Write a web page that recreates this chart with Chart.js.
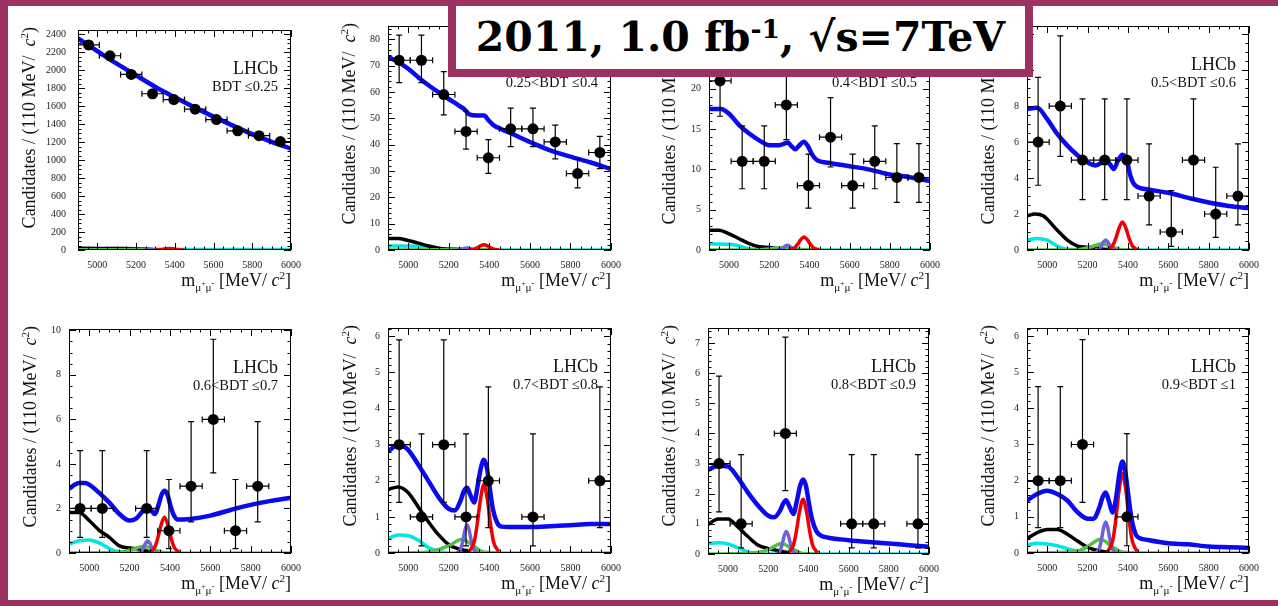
<!DOCTYPE html>
<html>
<head>
<meta charset="utf-8">
<script src="https://cdn.jsdelivr.net/npm/chart.js@4.4.1/dist/chart.umd.min.js"></script>
<style>
  body { margin: 0; width: 1278px; height: 606px; position: relative; overflow: hidden; background: #fff; }
  #frame { position: absolute; left: 0; top: 0; width: 1278px; height: 606px; box-sizing: border-box;
           border-left: 8px solid #9b3261; border-top: 6px solid #9b3261; border-bottom: 6px solid #9b3261; }
  canvas.pad { position: absolute; }
  #title { position: absolute; left: 448px; top: 0; width: 585px; height: 77px; box-sizing: border-box;
           border: 8px solid #9b3261; border-top-width: 6px; background: #fff; z-index: 10;
           font: bold 41px "DejaVu Serif", serif; color: #000; text-align: center; line-height: 63px; white-space: nowrap; }
  #title sup { font-size: 0.65em; vertical-align: 0.5em; line-height: 0; }
</style>
</head>
<body>
<div id="frame"></div>
<div id="title">2011, 1.0 fb<sup>-1</sup>, √s=7TeV</div>
<script>
// mass bins (110 MeV wide) shared by all BDT bins
const binCentres = [4955, 5065, 5175, 5285, 5395, 5505, 5615, 5725, 5835, 5945];
const binHalfWidth = 55;

const bdtLabels = ['BDT \u22640.25', '0.25<BDT \u22640.4', '0.4<BDT \u22640.5', '0.5<BDT \u22640.6',
                   '0.6<BDT \u22640.7', '0.7<BDT \u22640.8', '0.8<BDT \u22640.9', '0.9<BDT \u22641'];

// candidates per bin (null = empty bin, not drawn)
const counts = [
  [2284, 2163, 1955, 1740, 1675, 1568, 1453, 1327, 1273, 1208],
  [72, 72, 59, 45, 35, 46, 46, 41, 29, 37],
  [21, 11, 11, 18, 8, 14, 8, 11, 9, 9],
  [6, 8, 5, 5, 5, 3, 1, 5, 2, 3],
  [2, 2, null, 2, 1, 3, 6, 1, 3, null],
  [3, 1, 3, 1, 2, null, 1, null, null, 2],
  [3, 1, null, 4, null, null, 1, 1, null, 1],
  [2, 2, 3, null, 1, null, null, null, null, null]
];
const errLow = [
  [2236, 2116, 1911, 1698, 1634, 1528, 1415, 1291, 1237, 1173],
  [63.5, 63.5, 51.3, 38.3, 29.1, 39.2, 39.2, 34.6, 23.6, 30.9],
  [16.6, 7.6, 7.6, 13.7, 5.2, 10.3, 5.2, 7.6, 5.9, 5.9],
  [3.6, 5.2, 2.8, 2.8, 2.8, 1.4, 0.2, 2.8, 0.7, 1.4],
  [0.7, 0.7, null, 0.7, 0.2, 1.4, 3.6, 0.2, 1.4, null],
  [1.4, 0.2, 1.4, 0.2, 0.7, null, 0.2, null, null, 0.7],
  [1.4, 0.2, null, 2.1, null, null, 0.2, 0.2, null, 0.2],
  [0.7, 0.7, 1.4, null, 0.2, null, null, null, null, null]
];
const errHigh = [
  [2332, 2210, 1999, 1782, 1716, 1608, 1491, 1363, 1309, 1243],
  [81.5, 81.5, 67.7, 52.7, 41.9, 53.8, 53.8, 47.4, 34.4, 43.1],
  [26.1, 15.4, 15.4, 22.4, 11.9, 18.9, 11.9, 15.4, 13.2, 13.2],
  [9.6, 11.9, 8.4, 8.4, 8.4, 5.9, 3.3, 8.4, 4.6, 5.9],
  [4.6, 4.6, null, 4.6, 3.3, 5.9, 9.6, 3.3, 5.9, null],
  [5.9, 3.3, 5.9, 3.3, 4.6, null, 3.3, null, null, 4.6],
  [5.9, 3.3, null, 7.2, null, null, 3.3, 3.3, null, 3.3],
  [4.6, 4.6, 5.9, null, 3.3, null, null, null, null, null]
];

// total fit, [mass, candidates]
const fitTotal = [
  [[4900,2357],[5000,2215],[5100,2075],[5200,1945],[5300,1815],[5400,1700],[5500,1590],[5600,1485],[5700,1385],[5800,1290],[5900,1205],[6000,1128]],
  [[4900,73.3],[4950,71.3],[5000,68.8],[5050,65.5],[5100,62.5],[5150,59.8],[5200,57.3],[5250,54.8],[5280,53.2],[5300,51.5],[5340,51],[5375,51],[5395,49.3],[5420,47.4],[5460,45.8],[5500,44.5],[5600,41],[5700,37.8],[5800,35.4],[5900,33.2],[6000,30.7]],
  [[4900,17.5],[4960,17.5],[5000,16.9],[5050,15.5],[5100,14.45],[5150,13.6],[5200,13.0],[5250,13.0],[5275,13.2],[5292,13.35],[5310,12.9],[5330,12.5],[5350,13.0],[5372,13.45],[5392,12.9],[5412,11.9],[5435,11.2],[5500,10.8],[5600,10.4],[5700,9.98],[5800,9.36],[5900,9.04],[6000,8.55]],
  [[4900,7.85],[4950,7.9],[5000,7.27],[5050,6.45],[5100,5.8],[5150,5.27],[5200,4.87],[5240,4.7],[5265,4.82],[5290,5.05],[5312,4.75],[5330,4.5],[5352,5.0],[5373,5.3],[5394,5.0],[5413,4.1],[5435,3.6],[5500,3.36],[5600,3.18],[5700,2.9],[5800,2.64],[5900,2.45],[6000,2.33]],
  [[4900,2.89],[4950,3.14],[4980,3.14],[5000,3.07],[5050,2.7],[5100,2.26],[5150,1.75],[5200,1.46],[5230,1.53],[5260,1.82],[5275,2.02],[5290,2.09],[5305,1.95],[5325,1.75],[5345,2.2],[5358,2.6],[5373,2.8],[5388,2.62],[5402,2.15],[5418,1.72],[5440,1.5],[5500,1.53],[5600,1.68],[5700,1.93],[5800,2.16],[5900,2.34],[6000,2.48]],
  [[4900,2.82],[4950,2.99],[4980,2.94],[5000,2.85],[5050,2.44],[5100,1.99],[5150,1.54],[5200,1.22],[5230,1.18],[5258,1.45],[5275,1.72],[5290,1.81],[5305,1.62],[5325,1.4],[5342,1.85],[5358,2.35],[5373,2.58],[5388,2.35],[5402,1.8],[5418,1.2],[5440,0.82],[5460,0.73],[5500,0.72],[5600,0.72],[5700,0.74],[5800,0.77],[5900,0.8],[6000,0.8]],
  [[4900,2.79],[4950,2.93],[5000,2.9],[5050,2.52],[5100,2.03],[5150,1.6],[5200,1.27],[5230,1.22],[5258,1.43],[5275,1.68],[5288,1.78],[5305,1.58],[5325,1.33],[5342,1.75],[5358,2.25],[5373,2.47],[5388,2.25],[5402,1.7],[5418,1.15],[5440,0.75],[5460,0.62],[5500,0.54],[5600,0.46],[5700,0.4],[5800,0.35],[5900,0.29],[6000,0.24]],
  [[4900,1.45],[4950,1.63],[5000,1.72],[5050,1.63],[5100,1.45],[5150,1.13],[5200,0.95],[5230,0.95],[5258,1.25],[5275,1.55],[5290,1.67],[5305,1.45],[5325,1.12],[5342,1.55],[5358,2.2],[5373,2.53],[5388,2.2],[5402,1.6],[5418,0.95],[5440,0.5],[5460,0.41],[5500,0.36],[5600,0.27],[5700,0.24],[5800,0.18],[5900,0.16],[6000,0.14]]
];

// Bs -> mumu (red) and B0 -> mumu (violet) peaks
const bsMass = [5300, 5325, 5340, 5356, 5373, 5390, 5406, 5421, 5446];
const bsCurve = [
  [0.4, 2.9, 7.6, 14, 18, 14, 7.6, 2.9, 0.4],
  [0.04, 0.32, 0.84, 1.56, 2.0, 1.56, 0.84, 0.32, 0.04],
  [0.03, 0.26, 0.67, 1.25, 1.6, 1.25, 0.67, 0.26, 0.03],
  [0.03, 0.25, 0.65, 1.21, 1.55, 1.21, 0.65, 0.25, 0.03],
  [0.03, 0.26, 0.67, 1.25, 1.6, 1.25, 0.67, 0.26, 0.03],
  [0.04, 0.3, 0.8, 1.48, 1.9, 1.48, 0.8, 0.3, 0.04],
  [0.04, 0.29, 0.76, 1.42, 1.82, 1.42, 0.76, 0.29, 0.04],
  [0.04, 0.35, 0.92, 1.72, 2.2, 1.72, 0.92, 0.35, 0.04]
];
const bdMass = [5240, 5258, 5270, 5280, 5290, 5300, 5310, 5322, 5340];
const bdCurve = [
  [0.03, 0.42, 1.38, 2.46, 3, 2.46, 1.38, 0.42, 0.03],
  [0.01, 0.11, 0.37, 0.66, 0.8, 0.66, 0.37, 0.11, 0.01],
  [0.01, 0.08, 0.28, 0.49, 0.6, 0.49, 0.28, 0.08, 0.01],
  [0.01, 0.08, 0.25, 0.45, 0.55, 0.45, 0.25, 0.08, 0.01],
  [0.01, 0.08, 0.25, 0.45, 0.55, 0.45, 0.25, 0.08, 0.01],
  [0.01, 0.11, 0.36, 0.64, 0.78, 0.64, 0.36, 0.11, 0.01],
  [0.01, 0.1, 0.35, 0.62, 0.75, 0.62, 0.35, 0.1, 0.01],
  [0.01, 0.12, 0.4, 0.71, 0.86, 0.71, 0.4, 0.12, 0.01]
];

// misidentified B -> hh' (green)
const hhCurve = [
  [[4900,3],[5100,3],[5270,6],[5450,2]],
  [[4900,0],[5150,0.05],[5220,0.3],[5270,0.5],[5320,0.3],[5380,0.05],[5450,0]],
  [[4900,0],[5150,0.03],[5220,0.2],[5270,0.32],[5320,0.2],[5380,0.03],[5450,0]],
  [[4900,0],[5150,0.02],[5220,0.18],[5270,0.35],[5320,0.18],[5370,0.02],[5450,0]],
  [[4900,0],[5150,0.03],[5220,0.18],[5270,0.3],[5320,0.16],[5370,0.02],[5450,0]],
  [[4900,0],[5100,0.03],[5200,0.2],[5265,0.38],[5320,0.2],[5370,0.03],[5450,0]],
  [[4900,0],[5150,0.05],[5210,0.18],[5265,0.35],[5320,0.17],[5370,0.02],[5450,0]],
  [[4900,0],[5150,0.05],[5200,0.18],[5265,0.38],[5320,0.18],[5370,0.03],[5450,0]]
];
// B -> pi mu nu (black)
const pimunuCurve = [
  [[4900,20],[5000,18],[5100,16],[5200,14],[5250,10],[5300,4]],
  [[4900,4.4],[4950,4.4],[5000,3.6],[5050,2.6],[5100,1.5],[5150,0.7],[5200,0.4],[5250,0.3],[5300,0.15]],
  [[4900,2.44],[4950,2.44],[5000,2.0],[5050,1.4],[5100,0.8],[5150,0.4],[5200,0.3],[5250,0.15],[5300,0.05]],
  [[4900,1.9],[4940,2.0],[4980,1.9],[5050,1.1],[5100,0.55],[5150,0.22],[5200,0.15],[5250,0.08],[5300,0.03]],
  [[4900,1.82],[4950,1.82],[5000,1.46],[5050,1.02],[5100,0.7],[5150,0.32],[5200,0.22],[5250,0.17],[5300,0.05]],
  [[4900,1.76],[4950,1.83],[5000,1.67],[5050,1.27],[5100,0.86],[5150,0.5],[5200,0.23],[5250,0.11],[5300,0.05]],
  [[4900,0.98],[4950,1.16],[5000,1.16],[5050,0.89],[5100,0.57],[5150,0.29],[5200,0.18],[5250,0.11],[5300,0.04]],
  [[4900,0.4],[4950,0.56],[5000,0.65],[5050,0.65],[5100,0.52],[5150,0.33],[5200,0.16],[5250,0.07],[5300,0.02]]
];
// B0(+) -> pi0(+) mu mu (cyan)
const pimumuCurve = [
  [[4900,8],[5200,6],[5600,5],[6000,5]],
  [[4900,1.5],[5000,1.5],[5100,1.4],[5150,0.4],[5200,0.1],[5300,0],[6000,0]],
  [[4900,0.75],[5000,0.7],[5050,0.5],[5100,0.15],[5150,0.03],[5200,0],[6000,0]],
  [[4900,0.55],[4950,0.64],[5000,0.55],[5050,0.22],[5100,0.04],[5200,0],[6000,0]],
  [[4900,0.4],[4950,0.55],[5000,0.58],[5050,0.45],[5100,0.2],[5150,0.05],[5200,0],[6000,0]],
  [[4900,0.4],[4950,0.5],[5000,0.48],[5050,0.35],[5100,0.15],[5150,0.05],[5200,0],[6000,0]],
  [[4900,0.35],[4950,0.37],[5000,0.33],[5050,0.2],[5100,0.07],[5150,0],[6000,0]],
  [[4900,0.22],[4950,0.27],[5000,0.25],[5050,0.2],[5100,0.12],[5150,0.05],[5200,0.01],[6000,0]]
];

// axis ranges and tick steps
const massMin = 4900, massMax = 6000;
const yMax = [2450, 85, 27.8, 12.45, 10.06, 6.23, 7.5, 6.22];
const yMajor = [200, 10, 5, 2, 2, 1, 1, 1];
const yMinor = [50, 2, 1, 0.5, 0.5, 0.2, 0.2, 0.2];

// ---- layout ----
const plotRects = [
  [78, 22, 296, 250], [388, 22, 616, 250], [709, 22, 935, 250], [1027, 22, 1254, 250],
  [69, 325, 296, 553], [388, 324, 616, 553], [708, 324, 934, 554], [1027, 324, 1254, 553]
];
const yTitleOffset = [43, 33, 34, 33, 33, 32, 33, 33];
const yLabelPad = [12, 8, 8, 8, 8, 8, 8, 8];
const AXIS_W = 70, AXIS_H = 50, PAD_T = 10, PAD_R = 14;
const SERIF = '"Liberation Serif", "Times New Roman", serif';

function pieceFont(p, size) {
  return (p.italic ? 'italic ' : '') + (size * (p.s || 1)).toFixed(1) + 'px ' + SERIF;
}

// draws a run of text pieces, right-aligned at xRight
function drawPieces(ctx, pieces, xRight, y, size) {
  const widths = pieces.map(p => { ctx.font = pieceFont(p, size); return ctx.measureText(p.t).width; });
  let cx = xRight - widths.reduce((a, b) => a + b, 0);
  pieces.forEach((p, i) => {
    ctx.font = pieceFont(p, size);
    ctx.fillText(p.t, cx, y + (p.dy || 0));
    cx += widths[i];
  });
}

const xTitle = [
  {t: 'm'}, {t: '\u03bc', s: 0.62, dy: 5}, {t: '+', s: 0.42, dy: 0}, {t: '\u03bc', s: 0.62, dy: 5}, {t: '-', s: 0.5, dy: 0},
  {t: ' [MeV/ '}, {t: 'c', italic: true}, {t: '2', s: 0.62, dy: -7}, {t: ']'}
];
const yTitle = [
  {t: 'Candidates / (110 MeV/  '}, {t: 'c', italic: true}, {t: '2', s: 0.62, dy: -7}, {t: ')'}
];

// ROOT-like pad: frame with inward ticks, error bars and labels
const rootPad = {
  id: 'rootPad',
  afterDatasetsDraw(chart, args, o) {
    const {ctx, chartArea: a} = chart;
    const xs = chart.scales.x, ys = chart.scales.y;
    const CAP = 3;

    ctx.save();
    ctx.beginPath();
    ctx.rect(a.left, a.top, a.right - a.left, a.bottom - a.top);
    ctx.clip();
    ctx.strokeStyle = '#000';
    ctx.lineWidth = 1.2;
    o.counts.forEach((n, i) => {
      if (n === null) return;
      const m = binCentres[i];
      const px = xs.getPixelForValue(m), py = ys.getPixelForValue(n);
      const x0 = xs.getPixelForValue(m - binHalfWidth), x1 = xs.getPixelForValue(m + binHalfWidth);
      const y0 = ys.getPixelForValue(o.lo[i]), y1 = ys.getPixelForValue(o.hi[i]);
      ctx.beginPath();
      ctx.moveTo(x0, py); ctx.lineTo(x1, py);
      ctx.moveTo(x0, py - CAP); ctx.lineTo(x0, py + CAP);
      ctx.moveTo(x1, py - CAP); ctx.lineTo(x1, py + CAP);
      ctx.moveTo(px, y0); ctx.lineTo(px, y1);
      ctx.moveTo(px - CAP, y0); ctx.lineTo(px + CAP, y0);
      ctx.moveTo(px - CAP, y1); ctx.lineTo(px + CAP, y1);
      ctx.stroke();
    });
    ctx.restore();

    // frame and ticks on all four sides
    ctx.save();
    ctx.strokeStyle = '#000';
    ctx.lineWidth = 1;
    ctx.strokeRect(a.left + 0.5, a.top + 0.5, a.right - a.left - 1, a.bottom - a.top - 1);
    ctx.beginPath();
    const xTicks = (step, len) => {
      for (let i = Math.ceil(massMin / step - 1e-9); i * step <= massMax + 1e-9; i++) {
        const p = Math.round(xs.getPixelForValue(i * step)) + 0.5;
        ctx.moveTo(p, a.bottom); ctx.lineTo(p, a.bottom - len);
        ctx.moveTo(p, a.top); ctx.lineTo(p, a.top + len);
      }
    };
    const yTicks = (step, len) => {
      for (let i = 0; i * step <= o.yMax + 1e-9; i++) {
        const p = Math.round(ys.getPixelForValue(i * step)) + 0.5;
        ctx.moveTo(a.left, p); ctx.lineTo(a.left + len, p);
        ctx.moveTo(a.right, p); ctx.lineTo(a.right - len, p);
      }
    };
    xTicks(200, 7); xTicks(50, 3.5);
    yTicks(o.major, 7); yTicks(o.minor, 3.5);
    ctx.stroke();

    // pad texts
    ctx.fillStyle = '#111';
    ctx.textBaseline = 'alphabetic';
    ctx.textAlign = 'right';
    ctx.font = '18px ' + SERIF;
    ctx.fillText('LHCb', a.right - 13, a.top + 44);
    ctx.font = '14.5px ' + SERIF;
    ctx.fillText(o.bdt, a.right - 13, a.top + 61);
    ctx.textAlign = 'left';
    drawPieces(ctx, xTitle, a.right, a.bottom + 36, 18);
    ctx.translate(a.left - o.yTitleOffset, a.top - 3);
    ctx.rotate(-Math.PI / 2);
    drawPieces(ctx, yTitle, 0, 0, 18);
    ctx.restore();
  }
};

const curveStyle = (data, color, width, order) => ({
  data: data.map(([x, y]) => ({x, y})),
  showLine: true,
  borderColor: color,
  borderWidth: width,
  pointRadius: 0,
  tension: 0.4,
  cubicInterpolationMode: 'monotone',
  borderJoinStyle: 'round',
  order: order
});

plotRects.forEach(([L, T, R, B], p) => {
  const canvas = document.createElement('canvas');
  canvas.className = 'pad';
  const w = R - L + AXIS_W + PAD_R, h = B - T + PAD_T + AXIS_H;
  canvas.width = w; canvas.height = h;
  canvas.style.left = (L - AXIS_W) + 'px';
  canvas.style.top = (T - PAD_T) + 'px';
  canvas.style.width = w + 'px';
  canvas.style.height = h + 'px';
  document.body.appendChild(canvas);

  new Chart(canvas.getContext('2d'), {
    type: 'scatter',
    data: {
      datasets: [
        {
          data: binCentres.map((m, i) => ({x: m, y: counts[p][i]})),
          pointRadius: 5.5,
          pointBackgroundColor: '#000',
          pointBorderWidth: 0,
          order: 0
        },
        curveStyle(fitTotal[p], '#0a0af0', 4.5, 1),
        curveStyle(bsMass.map((m, i) => [m, bsCurve[p][i]]), '#f00000', 3.5, 2),
        curveStyle(bdMass.map((m, i) => [m, bdCurve[p][i]]), '#6f62dc', 3.5, 3),
        curveStyle(hhCurve[p], '#55bf44', 3.5, 4),
        curveStyle(pimunuCurve[p], '#000000', 3.5, 5),
        curveStyle(pimumuCurve[p], '#00e5e5', 3.5, 6)
      ]
    },
    options: {
      responsive: false,
      animation: false,
      events: [],
      layout: { padding: { top: PAD_T, right: PAD_R, left: 0, bottom: 0 } },
      scales: {
        x: {
          type: 'linear', min: massMin, max: massMax,
          grid: { display: false, drawTicks: false },
          border: { display: false },
          afterFit: s => { s.height = AXIS_H; },
          ticks: { stepSize: 200, includeBounds: false, padding: 9, color: '#222',
                   font: { family: SERIF, size: 10 }, callback: v => String(v), maxRotation: 0 }
        },
        y: {
          type: 'linear', min: 0, max: yMax[p],
          grid: { display: false, drawTicks: false },
          border: { display: false },
          afterFit: s => { s.width = AXIS_W; },
          ticks: { stepSize: yMajor[p], includeBounds: false, padding: yLabelPad[p], color: '#222',
                   font: { family: SERIF, size: 10 }, callback: v => String(v) }
        }
      },
      plugins: {
        legend: { display: false },
        tooltip: { enabled: false },
        rootPad: {
          counts: counts[p], lo: errLow[p], hi: errHigh[p],
          yMax: yMax[p], major: yMajor[p], minor: yMinor[p],
          bdt: bdtLabels[p], yTitleOffset: yTitleOffset[p]
        }
      }
    },
    plugins: [rootPad]
  });
});
</script>
</body>
</html>
